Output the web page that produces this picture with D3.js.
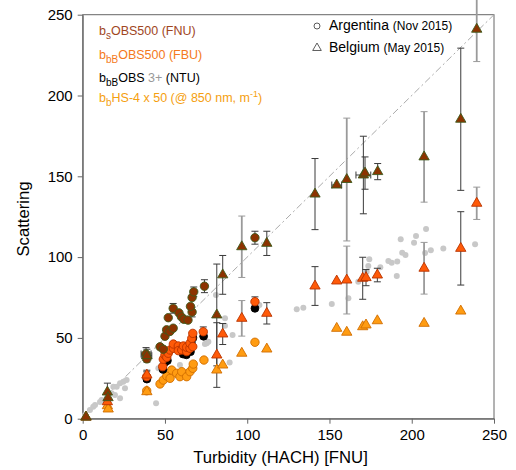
<!DOCTYPE html>
<html>
<head>
<meta charset="utf-8">
<script src="https://cdn.jsdelivr.net/npm/d3@7"></script>
<style>
  body { margin: 0; background: #fff; }
  text { font-family: "Liberation Sans", Arial, sans-serif; }
</style>
</head>
<body>
<div id="chart"></div>
<script>
// [turbidity, scattering, errY, errX]
const bsArg = [[38.5,40,4,3],[39,37],[47,44.5],[49,43],[50,51],[51,55],[53,54],[55,56],[52,62.5],[55,68.3,3],
  [58.5,65.5],[60,63],[61.5,61.5],[64,61],[66.5,66,3],[65.5,69.5],[66.5,75],[67.5,78.5,3],[74,82,4],[104.7,112,4]];
const bbArg = [[38.9,26,3],[48.6,32.2],[49,36.8],[50,39.4],[51.1,38],[52,40.5],[53.1,42.5],[55.1,43.6],[55.1,46.2],
  [58.1,45],[58.1,42.1],[60.2,42.5],[61.2,45],[63.2,41.5],[63.2,44.2],[65.2,43.6],[65.2,46.7],[66.3,49.7],
  [66.9,52.8],[66.9,44.6],[73.3,53.8,3],[104.7,72.4,3]];
const obsArg = [[39,24.5],[48.8,30.5],[50,35],[51.5,36],[61,40],[63,39.5],[65.5,41.5],[66,47],[67,50],[73.5,51],[104.7,68.3]];
const hsArg = [[38.9,17.3],[47,21.5],[49,23.9],[51.1,26.4],[53.1,25],[54.1,30.1],[57.1,28.1],[59.1,26],[60.2,29.1],
  [63.2,26],[65.2,29.1],[66.9,31.2],[67.2,33.8],[73.7,36.3],[104.7,47.3]];

const bsBel = [[2,1],[15,16.5,5.5],[15.4,13],[39,39,4,3],[81.5,64.2,31.5],[85.1,89,12],[96.7,106.4,19],[111.9,108.5,7.5],
  [141.2,139,22],[154.4,144.6,0,3],[160.5,148,38],[170.6,150.8,24,4.5],[171.6,152,10],[179.3,152.9,5],
  [207.5,162,28],[229.8,185.3,44],[239.5,241,20]];
const bbBel = [[2,1],[15,10.5],[39,27,3],[81.5,39.4,20],[85.1,52.4,6.5],[96.7,62.1,11],[111.9,65.2,6.6],[141.2,82.1,12],
  [154.4,85.2],[160.5,85.8,21],[170.2,86.9,13],[172.2,87.3,5],[179.1,88.9,4.2],[207.5,93.1,16],[229.8,105.4,22.7],
  [239.5,133.3,10]];
const hsBel = [[2,1],[15,8],[15.5,6],[39,16.7],[81.5,30.1],[85.1,33.2],[96.7,40.5],[111.9,43.1],[154.4,55.9],[160.5,53.5],
  [170.2,56.9],[172.2,58],[179.1,60.6],[207.5,59],[229.8,66.6]];

// other samples (grey)
const others = [[1.4,2.3],[4.4,5.4],[6.4,7.4],[7.5,8.5],[10.5,10.3],[11.5,11.6],[14.6,12.6],[17.6,15.7],[19.6,14.7],
  [18.6,19.8],[20.7,19.8],[22.7,21.9],[24.7,22.9],[26.7,24],[22.7,12.6],[25.7,18.8],[44.6,9.5],[46,31.2],[48,33.2],
  [59.1,33.2],[74.3,46.2],[75.4,46.7],[76.4,47.6],[81,76.5],[86.5,62.1],[86.5,57.5],[91.1,51.8],[89.3,34.7],
  [107.4,70.4],[130.1,67.7],[134.1,68.7],[151.4,71],[161.5,74.5],[167.5,84.8],[172.6,91],[173.6,94.5],[174.2,98.6],
  [180.9,93.7],[185.8,97.6],[187.8,96.5],[191.2,97.2],[190.9,88.3],[193.3,111],[194.2,102.7],[196.2,101.3],
  [201.4,108.9],[202.6,113],[208.7,117.4],[208.1,102.5],[211.6,104.2],[219.2,105.3],[238.5,108]];

// campaigns whose error bars are drawn in light grey
const lightBarDays = [96.7, 160.5, 207.5, 239.5];

const ticks = [0, 50, 100, 150, 200, 250];

const width = 516, height = 470;
const margin = {top: 14.7, right: 22, bottom: 51.3, left: 82.7};

const svg = d3.select("#chart").append("svg")
  .attr("width", width)
  .attr("height", height);

const x = d3.scaleLinear().domain([0, 250]).range([margin.left, width - margin.right]);
const y = d3.scaleLinear().domain([0, 250]).range([height - margin.bottom, margin.top]);

// frame
svg.append("rect")
  .attr("x", x(0)).attr("y", y(250))
  .attr("width", x(250) - x(0)).attr("height", y(0) - y(250))
  .attr("fill", "none").attr("stroke", "#666");

// axes
const xAxis = svg.append("g")
  .attr("transform", `translate(0,${y(0)})`)
  .call(d3.axisBottom(x).tickValues(ticks).tickSize(5).tickSizeOuter(0).tickPadding(6));
const yAxis = svg.append("g")
  .attr("transform", `translate(${x(0)},0)`)
  .call(d3.axisLeft(y).tickValues(ticks).tickSize(5).tickSizeOuter(0).tickPadding(5));
[xAxis, yAxis].forEach(g => {
  g.selectAll("path, line").attr("stroke", "#666");
  g.selectAll("text").attr("font-size", 15).attr("fill", "#000")
    .attr("font-family", "'Liberation Sans', Arial, sans-serif");
});

svg.append("text")
  .attr("x", 280.5).attr("y", 463)
  .attr("text-anchor", "middle").attr("font-size", 16.7)
  .text("Turbidity (HACH) [FNU]");
svg.append("text")
  .attr("transform", "translate(28.5,219) rotate(-90)")
  .attr("text-anchor", "middle").attr("font-size", 16.7)
  .text("Scattering");

// 1:1 line
svg.append("line")
  .attr("x1", x(0)).attr("y1", y(0)).attr("x2", x(250)).attr("y2", y(250))
  .attr("stroke", "#aaa").attr("stroke-width", 1)
  .attr("stroke-dasharray", "7,3,2,3");

// grey points
svg.append("g").selectAll("circle")
  .data(others)
  .join("circle")
    .attr("cx", d => x(d[0]))
    .attr("cy", d => y(d[1]))
    .attr("r", 3)
    .attr("fill", "#c8c8c8");

// error bars
const bars = svg.append("g");
function errorBars(data) {
  data.filter(d => d[2]).forEach(d => {
    const light = lightBarDays.includes(d[0]);
    const col = light ? "#9a9a9a" : "#3a3a3a";
    const sw = light ? 1.8 : 1;
    const cx = x(d[0]), y0 = y(d[1] - d[2]), y1 = y(d[1] + d[2]);
    bars.append("line").attr("x1", cx).attr("x2", cx).attr("y1", y0).attr("y2", y1)
      .attr("stroke", col).attr("stroke-width", sw);
    [y0, y1].forEach(v => bars.append("line")
      .attr("x1", cx - 3.5).attr("x2", cx + 3.5).attr("y1", v).attr("y2", v)
      .attr("stroke", col).attr("stroke-width", 1));
  });
  data.filter(d => d[3]).forEach(d => {
    const cy = y(d[1]), x0 = x(d[0] - d[3]), x1 = x(d[0] + d[3]);
    bars.append("line").attr("x1", x0).attr("x2", x1).attr("y1", cy).attr("y2", cy)
      .attr("stroke", "#3a3a3a").attr("stroke-width", 1);
    [x0, x1].forEach(v => bars.append("line")
      .attr("x1", v).attr("x2", v).attr("y1", cy - 3.5).attr("y2", cy + 3.5)
      .attr("stroke", "#3a3a3a").attr("stroke-width", 1));
  });
}
[bsArg, bbArg, bsBel, bbBel].forEach(errorBars);

const tri = d3.symbol().type(d3.symbolTriangle).size(46);

function circles(data, fill, stroke, r) {
  svg.append("g").selectAll("circle")
    .data(data)
    .join("circle")
      .attr("cx", d => x(d[0]))
      .attr("cy", d => y(d[1]))
      .attr("r", r)
      .attr("fill", fill)
      .attr("stroke", stroke)
      .attr("stroke-width", 0.9);
}
function triangles(data, fill, stroke) {
  svg.append("g").selectAll("path")
    .data(data)
    .join("path")
      .attr("d", tri)
      .attr("transform", d => `translate(${x(d[0])},${y(d[1])})`)
      .attr("fill", fill)
      .attr("stroke", stroke)
      .attr("stroke-width", 0.9);
}

circles(hsArg, "#ff9c12", "#d06d00", 4.2);
triangles(hsBel, "#ff9c12", "#d06d00");
circles(obsArg, "#000", "#000", 3.9);
circles(bbArg, "#ff5a08", "#b83300", 4.2);
triangles(bbBel, "#ff5a08", "#b83300");
circles(bsArg, "#8c3300", "#3d5a1c", 4.2);
triangles(bsBel, "#8c3300", "#3d5a1c");

// legend (instruments)
const legend = [
  {y: 34.5, color: "#a0461e", sub: "s", parts: [["OBS500 (FNU)"]]},
  {y: 59, color: "#f47920", sub: "bB", parts: [["OBS500 (FBU)"]]},
  {y: 81.5, color: "#000", sub: "bB", parts: [["OBS "], ["3+", "#999"], [" (NTU)"]]},
  {y: 102, color: "#f5a00f", sub: "b", parts: [["HS-4 x 50 (@ 850 nm, m"], ["-1", null, true], [")"]]}
];
legend.forEach(l => {
  const t = svg.append("text").attr("x", 99).attr("y", l.y)
    .attr("font-size", 12.5).attr("fill", l.color);
  t.append("tspan").text("b");
  t.append("tspan").attr("dy", 4).attr("font-size", 10).text(l.sub);
  let shift = -4;
  l.parts.forEach(p => {
    const s = t.append("tspan").attr("dy", shift).text(p[0]);
    shift = 0;
    if (p[1]) s.attr("fill", p[1]);
    if (p[2]) { s.attr("dy", -5).attr("font-size", 9); shift = 5; }
  });
});

// legend (sites)
svg.append("circle").attr("cx", 317).attr("cy", 26).attr("r", 3)
  .attr("fill", "none").attr("stroke", "#333").attr("stroke-width", 0.8);
svg.append("path").attr("d", d3.symbol().type(d3.symbolTriangle).size(32)())
  .attr("transform", "translate(317,48)")
  .attr("fill", "none").attr("stroke", "#333").attr("stroke-width", 0.8);
[["Argentina", "(Nov 2015)", 29.5], ["Belgium", "(May 2015)", 51.7]].forEach(s => {
  const t = svg.append("text").attr("x", 329).attr("y", s[2]).attr("fill", "#000");
  t.append("tspan").attr("font-size", 14).text(s[0] + " ");
  t.append("tspan").attr("font-size", 12).text(s[1]);
});
</script>
</body>
</html>
